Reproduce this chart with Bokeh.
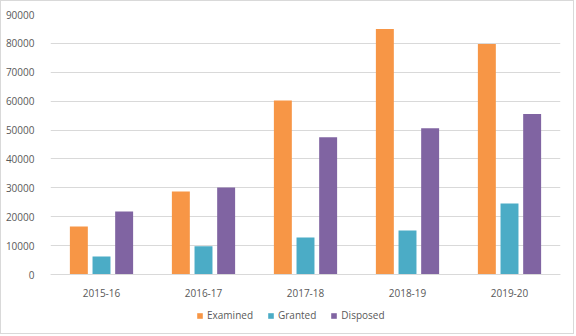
from bokeh.plotting import figure
from bokeh.models import (ColumnDataSource, FactorRange, Range1d, FixedTicker, BasicTickFormatter,
                          Legend, LegendItem, CategoricalAxis)
from bokeh.transform import dodge
from bokeh.embed import file_html
from bokeh.resources import INLINE

years = ["2015-16", "2016-17", "2017-18", "2018-19", "2019-20"]
examined = [16600, 28700, 60200, 85000, 79800]
granted = [6200, 9800, 12800, 15200, 24600]
disposed = [21800, 30100, 47500, 50600, 55600]
y_ticks = [0, 10000, 20000, 30000, 40000, 50000, 60000, 70000, 80000, 90000]

colors = {"Examined": "#F79646", "Granted": "#4BACC6", "Disposed": "#8064A2"}

src = ColumnDataSource(dict(year=years, Examined=examined, Granted=granted, Disposed=disposed))

# frame spans 320 px; value 0 sits 60 px above its bottom (260 px for 90000)
y_low = -90000 * 60 / 260.0
p = figure(width=574, height=334, x_range=FactorRange(*years, range_padding=0),
           y_range=Range1d(y_low, 90000), output_backend="svg", toolbar_location=None,
           x_axis_location=None,
           min_border_left=49, min_border_right=15, min_border_top=13, min_border_bottom=1)
p.x_range.range_padding = 0
p.styles = {"border": "1px solid #d9d9d9"}

font = "Open Sans"
off = 0.222
w = 0.176
r1 = p.vbar(x=dodge("year", -off, range=p.x_range), top="Examined", width=w, source=src,
            color=colors["Examined"], line_color=None)
r2 = p.vbar(x=dodge("year", 0, range=p.x_range), top="Granted", width=w, source=src,
            color=colors["Granted"], line_color=None)
r3 = p.vbar(x=dodge("year", off, range=p.x_range), top="Disposed", width=w, source=src,
            color=colors["Disposed"], line_color=None)

p.outline_line_color = None
p.xgrid.grid_line_color = None
p.ygrid.grid_line_color = "#d9d9d9"
p.ygrid.ticker = FixedTicker(ticks=y_ticks)

p.yaxis.ticker = FixedTicker(ticks=y_ticks)
p.yaxis.formatter = BasicTickFormatter(use_scientific=False)
p.yaxis.axis_line_color = None
p.yaxis.major_tick_line_color = None
p.yaxis.minor_tick_line_color = None
p.yaxis.major_label_standoff = 10
p.yaxis.major_label_text_font = font
p.yaxis.major_label_text_font_size = "10px"
p.yaxis.major_label_text_color = "#595959"

xaxis = CategoricalAxis(fixed_location=0)
xaxis.axis_line_color = "#d9d9d9"
xaxis.major_tick_line_color = None
xaxis.minor_tick_line_color = None
xaxis.major_label_standoff = 8
xaxis.major_label_text_font = font
xaxis.major_label_text_font_size = "10px"
xaxis.major_label_text_color = "#595959"
p.add_layout(xaxis, "below")

legend = Legend(items=[LegendItem(label="Examined", renderers=[r1]),
                       LegendItem(label="Granted", renderers=[r2]),
                       LegendItem(label="Disposed", renderers=[r3])],
                orientation="horizontal", location=(146, 12),
                glyph_width=7, glyph_height=7, label_standoff=4, spacing=14,
                padding=0, margin=0, border_line_color=None, background_fill_alpha=0,
                label_text_font=font, label_text_font_size="10px", label_text_color="#595959")
p.add_layout(legend, "center")

open("out.html", "w").write(file_html(p, INLINE))
